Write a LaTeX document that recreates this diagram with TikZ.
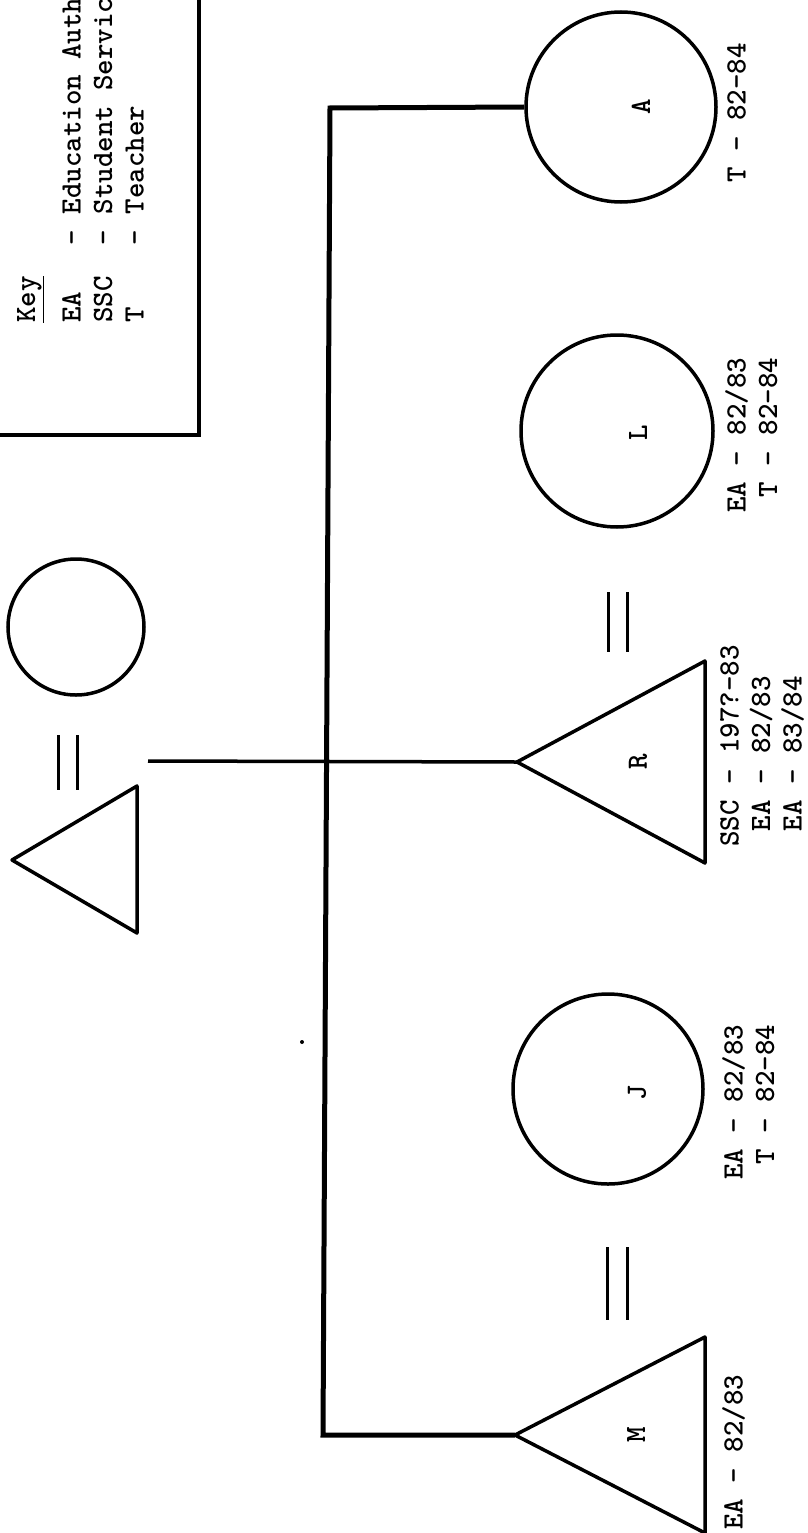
\documentclass[tikz,border=0pt]{standalone}
\usetikzlibrary{positioning}
\tikzset{
  kin/.style={draw, line width=3.5pt, line join=round},
  sibline/.style={draw, line width=5pt, line join=miter},
  female/.style={circle, draw, line width=3.5pt, inner sep=0pt},
  wedbar/.style={draw, line width=3pt},
  lbl/.style={font=\ttfamily\bfseries\fontsize{29.5}{31.5}\selectfont, rotate=90, inner sep=0pt, align=left}
}

\begin{document}
\begin{tikzpicture}[x=1pt, y=-1pt]
\useasboundingbox (0,0) rectangle (807,1533);

% key box, cut by the page edge
\draw[line width=4pt] (199,0) -- (199,435) -- (0,435);
\node[lbl, anchor=north west] (key) at (17,323)
  {\underline{Key}\\[14pt]
   EA\ \ \ - Education Auth\\
   SSC\ \ - Student Servic\\
   T\ \ \ \ - Teacher};

% parents
\node[female, minimum size=136pt] (mother) at (76,627) {};
\draw[wedbar] (58,735) -- (58,790) (77,735) -- (77,790);
\coordinate (father) at (12,860);
\draw[kin] (father) -- ++(125,-74) -- ++(0,147) -- cycle;
\coordinate (wed) at (148,761);

% children
\node[female, minimum size=190pt] (A) at (621,107) {};
\node[lbl] (Aname) at (641,107) {A};
\node[lbl, anchor=north west] (Alab) at (727,183) {T - 82-84};

\node[female, minimum size=192pt] (L) at (617,431) {};
\node[lbl] (Lname) at (638,433) {L};
\node[lbl, anchor=north west] (Llab) at (725,513)
  {EA - 82/83\\\hphantom{E}T - 82-84};

\draw[wedbar] (608,592) -- (608,652) (627,592) -- (627,652);

\coordinate (R) at (517,762);
\draw[kin] (R) -- ++(188,-101) -- ++(0,202) -- cycle;
\node[lbl] (Rname) at (638,762) {R};
\node[lbl, anchor=north west] (Rlab) at (720,847)
  {SSC - 197?-83\\\hphantom{S}EA - 82/83\\\hphantom{S}EA - 83/84};

\node[female, minimum size=190pt] (J) at (608,1089) {};
\node[lbl] (Jname) at (637,1093) {J};
\node[lbl, anchor=north west] (Jlab) at (722,1180)
  {EA - 82/83\\\hphantom{E}T - 82-84};

\draw[wedbar] (607,1247) -- (607,1320) (627,1247) -- (627,1320);

\coordinate (M) at (515,1435);
\draw[kin] (M) -- ++(190,-98) -- ++(0,196) -- cycle;
\node[lbl] (Mname) at (636,1435) {M};
\node[lbl, anchor=north west] (Mlab) at (722,1530) {EA - 82/83};

% sibling line and line of descent
\coordinate (sibtop) at (330,108);
\coordinate (sibbot) at (323,1435);
\draw[sibline] (A.west) -- (sibtop) -- (sibbot) -- (M);
\draw[kin] (wed) -- (R);

\fill (302,1042) circle (2);
\end{tikzpicture}
\end{document}
